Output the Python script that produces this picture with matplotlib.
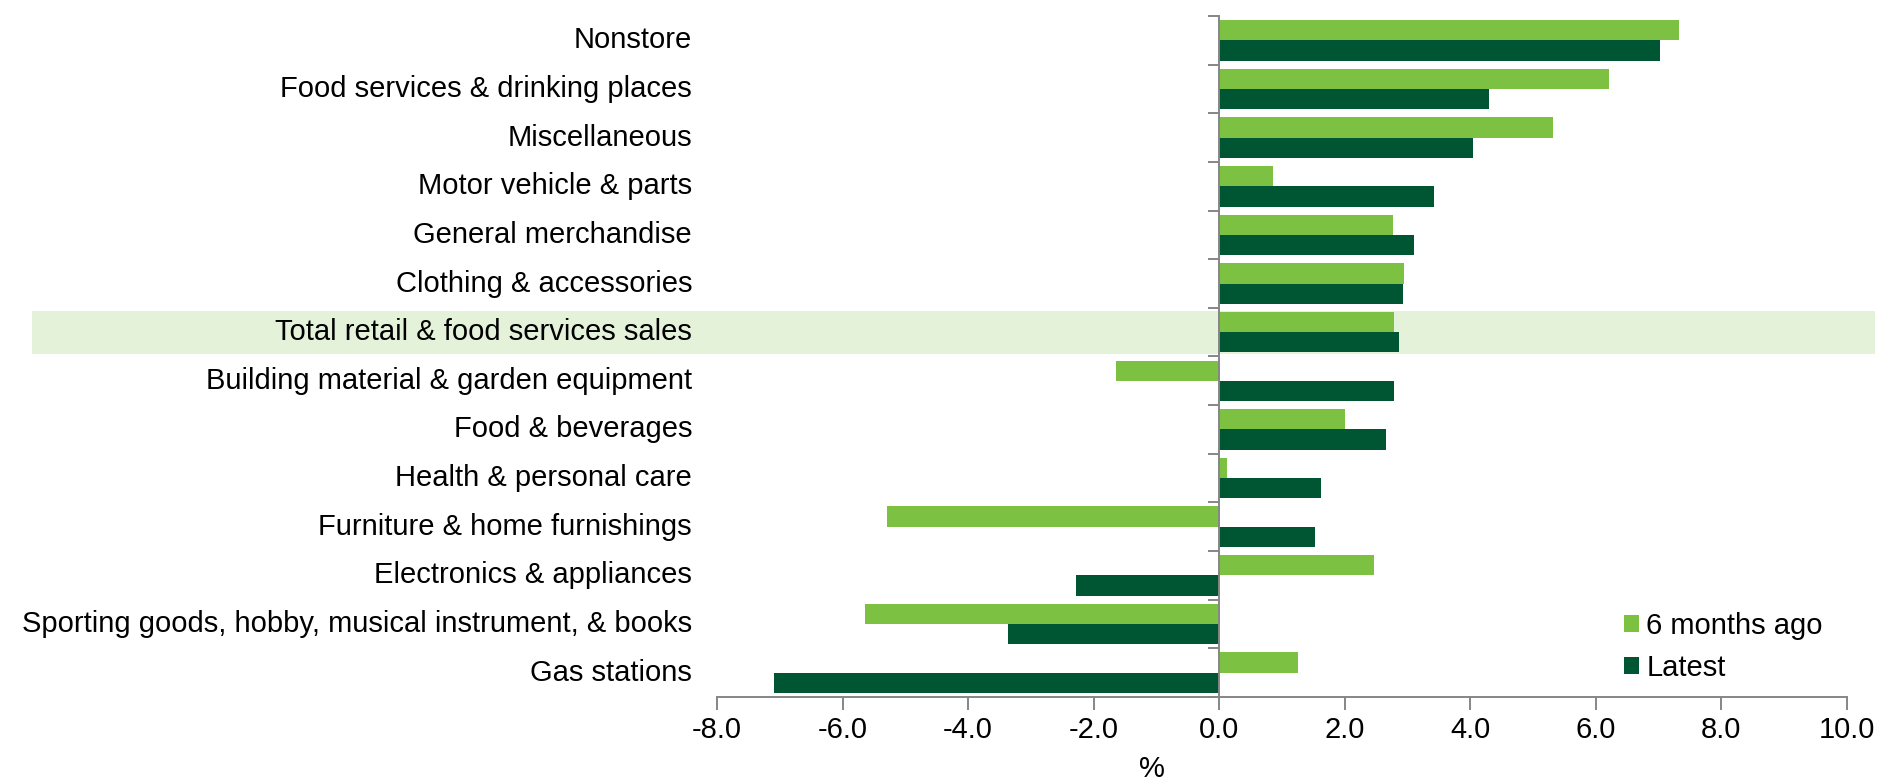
"""Retail sales growth by category: 6 months ago vs latest."""

import matplotlib

matplotlib.use("Agg")
import matplotlib.pyplot as plt
import matplotlib.transforms as mtransforms
from matplotlib.patches import Patch, Rectangle
import numpy as np

categories = [
    "Nonstore",
    "Food services & drinking places",
    "Miscellaneous",
    "Motor vehicle & parts",
    "General merchandise",
    "Clothing & accessories",
    "Total retail & food services sales",
    "Building material & garden equipment",
    "Food & beverages",
    "Health & personal care",
    "Furniture & home furnishings",
    "Electronics & appliances",
    "Sporting goods, hobby, musical instrument, & books",
    "Gas stations",
]
six_months_ago = [7.32, 6.21, 5.31, 0.86, 2.77, 2.94, 2.78, -1.64, 2.00, 0.12, -5.30, 2.47, -5.65, 1.25]
latest = [7.02, 4.29, 4.05, 3.42, 3.10, 2.92, 2.86, 2.78, 2.66, 1.62, 1.53, -2.28, -3.37, -7.10]
highlight = "Total retail & food services sales"
x_ticks = [-8, -6, -4, -2, 0, 2, 4, 6, 8, 10]

LIGHT = "#7DC142"
DARK = "#005532"
BAND = "#E4F2D9"
GREY = "#868686"
FS = 21

plt.rcParams["font.family"] = ["Liberation Sans", "DejaVu Sans"]
plt.rcParams["axes.unicode_minus"] = False

fig = plt.figure(figsize=(18.77, 7.83), dpi=100)
ax = fig.add_axes([0.382, 0.1098, 0.602, 0.8698])

y = np.arange(len(categories))
h = 0.417
ax.barh(y - h / 2, six_months_ago, height=h, color=LIGHT, label="6 months ago", zorder=2)
ax.barh(y + h / 2, latest, height=h, color=DARK, label="Latest", zorder=2)

ax.set_xlim(-8, 10)
ax.set_ylim(len(categories) - 0.5, -0.5)

# highlight band across the whole figure width for the total row
hi = categories.index(highlight)
band_tf = mtransforms.blended_transform_factory(fig.transFigure, ax.transData)
ax.add_patch(
    Rectangle((32 / 1877, hi - 0.44), (1875 - 32) / 1877, 0.88,
              transform=band_tf, facecolor=BAND, edgecolor="none",
              zorder=0, clip_on=False)
)

# spines: category axis crosses at zero
for side in ("top", "right"):
    ax.spines[side].set_visible(False)
ax.spines["left"].set_position(("data", 0))
for side in ("left", "bottom"):
    ax.spines[side].set_color(GREY)
    ax.spines[side].set_linewidth(1.4)

ax.set_yticks(np.arange(-0.5, len(categories), 1.0))
ax.set_yticklabels([])
ax.tick_params(axis="y", length=8, width=1.4, color=GREY, direction="out")

ax.set_xticks(x_ticks)
ax.set_xticklabels([f"{v:.1f}" for v in x_ticks], fontsize=FS)
ax.tick_params(axis="x", length=9, width=1.4, color=GREY, pad=5)

label_tf = mtransforms.blended_transform_factory(ax.transAxes, ax.transData)
for i, name in enumerate(categories):
    ax.text(-25 / 1130, i, name, transform=label_tf, ha="right", va="center",
            fontsize=FS, zorder=3)

ax.set_xlabel("%", fontsize=FS)
ax.xaxis.set_label_coords((1152 - 717) / 1130, -0.085)

handles = [Patch(facecolor=LIGHT), Patch(facecolor=DARK)]
fig.legend(handles, ["6 months ago", "Latest"], loc="center left",
           bbox_to_anchor=(1624 / 1877, 0.1737), bbox_transform=fig.transFigure,
           frameon=False, fontsize=FS, handlelength=0.52, handleheight=0.52,
           handletextpad=0.25, labelspacing=0.5, borderpad=0, borderaxespad=0)

fig.savefig("out.png", dpi=100)
